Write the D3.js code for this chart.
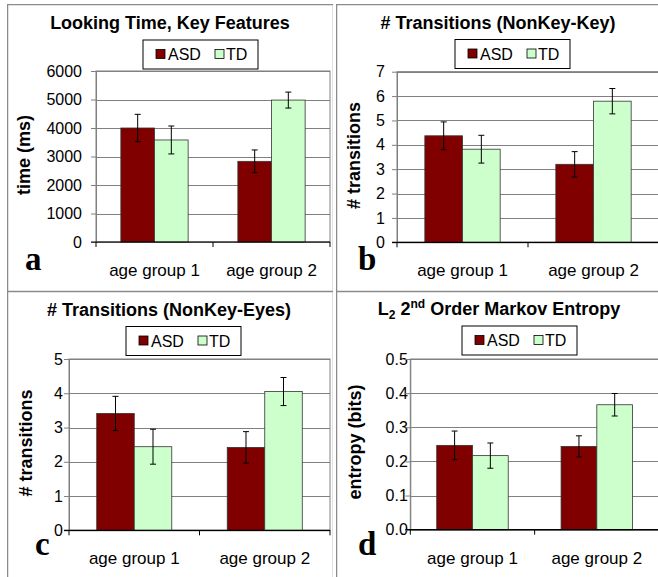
<!DOCTYPE html>
<html>
<head>
<meta charset="utf-8">
<script src="https://cdn.jsdelivr.net/npm/d3@7"></script>
<style>
  body { margin: 0; background: #fff; }
  svg { display: block; }
  text { font-family: "Liberation Sans", Arial, sans-serif; }
</style>
</head>
<body>
<svg id="chart" width="658" height="577"></svg>
<script>
const groups = ['age group 1', 'age group 2'];
const seriesNames = ['ASD', 'TD'];
const seriesColors = ['#800000', '#ccffcc'];

// panel a: looking time at key features (ms)
const lookTimeASD = [4000, 2830];
const lookTimeASDErr = [480, 400];
const lookTimeTD = [3580, 4980];
const lookTimeTDErr = [490, 280];
const lookTimeTicks = [0, 1000, 2000, 3000, 4000, 5000, 6000];

// panel b: transitions NonKey-Key
const keyTransASD = [4.37, 3.2];
const keyTransASDErr = [0.57, 0.52];
const keyTransTD = [3.82, 5.79];
const keyTransTDErr = [0.57, 0.52];
const keyTransTicks = [0, 1, 2, 3, 4, 5, 6, 7];

// panel c: transitions NonKey-Eyes
const eyeTransASD = [3.41, 2.42];
const eyeTransASDErr = [0.5, 0.46];
const eyeTransTD = [2.44, 4.05];
const eyeTransTDErr = [0.51, 0.41];
const eyeTransTicks = [0, 1, 2, 3, 4, 5];

// panel d: L2 2nd order Markov entropy (bits)
const entropyASD = [0.247, 0.244];
const entropyASDErr = [0.042, 0.031];
const entropyTD = [0.217, 0.366];
const entropyTDErr = [0.037, 0.033];
const entropyTicks = [0, 0.1, 0.2, 0.3, 0.4, 0.5];

const svg = d3.select('#chart');
svg.append('rect').attr('width', 658).attr('height', 577).attr('fill', '#fff');

const panels = [
  {
    id: 'a', title: [{ t: 'Looking Time, Key Features' }], yTitle: 'time (ms)',
    values: [lookTimeASD, lookTimeTD], errors: [lookTimeASDErr, lookTimeTDErr],
    ticks: lookTimeTicks, fmt: d3.format('d'),
    box: [7, 4, 326, 287], plot: [96, 330, 71, 242], tickGap: 14,
    titleX: 170, titleY: 28.5, legend: [143, 40], yTitleX: 24, yTitleY: 155,
    letter: [25, 270]
  },
  {
    id: 'b', title: [{ t: '# Transitions (NonKey-Key)' }], yTitle: '# transitions',
    values: [keyTransASD, keyTransTD], errors: [keyTransASDErr, keyTransTDErr],
    ticks: keyTransTicks, fmt: d3.format('d'),
    box: [336, 4, 330, 287], plot: [397, 659, 71.7, 242.3], tickGap: 12,
    titleX: 498, titleY: 28.5, legend: [455, 39.5], yTitleX: 354, yTitleY: 155.5,
    letter: [358, 270]
  },
  {
    id: 'c', title: [{ t: '# Transitions (NonKey-Eyes)' }], yTitle: '# transitions',
    values: [eyeTransASD, eyeTransTD], errors: [eyeTransASDErr, eyeTransTDErr],
    ticks: eyeTransTicks, fmt: d3.format('d'),
    box: [7, 291, 326, 300], plot: [69, 330, 359, 530.3], tickGap: 6,
    titleX: 169, titleY: 315.5, legend: [126, 326.5], yTitleX: 26, yTitleY: 443,
    letter: [35, 555]
  },
  {
    id: 'd',
    title: [
      { t: 'L' }, { t: '2', sub: true }, { t: ' 2' }, { t: 'nd', sup: true },
      { t: ' Order Markov Entropy' }
    ],
    yTitle: 'entropy (bits)',
    values: [entropyASD, entropyTD], errors: [entropyASDErr, entropyTDErr],
    ticks: entropyTicks, fmt: d3.format('.1f'),
    box: [336, 291, 330, 300], plot: [410.3, 659, 359, 529.7], tickGap: 2.5,
    titleX: 499, titleY: 315, legend: [462, 326], yTitleX: 355, yTitleY: 442,
    letter: [358, 555]
  }
];

panels.forEach(p => drawPanel(p));

function drawPanel(p) {
  const [bx, by, bw, bh] = p.box;
  const [left, right, top, bottom] = p.plot;

  svg.append('clipPath').attr('id', 'clip-' + p.id)
    .append('rect').attr('x', bx).attr('y', by).attr('width', bw).attr('height', bh);

  const g = svg.append('g').attr('clip-path', `url(#clip-${p.id})`);

  // panel frame
  g.append('rect')
    .attr('x', bx).attr('y', by).attr('width', bw + 1).attr('height', bh + 1)
    .attr('fill', 'none').attr('stroke', '#8a8a8a').attr('stroke-width', 2.5);

  const y = d3.scaleLinear()
    .domain([0, d3.max(p.ticks)])
    .range([bottom, top]);

  const x0 = d3.scaleBand()
    .domain(groups)
    .range([left, right])
    .paddingInner(0.425)
    .paddingOuter(0.2125);

  const x1 = d3.scaleBand()
    .domain(seriesNames)
    .range([0, x0.bandwidth()]);

  // plot area border
  g.append('rect')
    .attr('x', left).attr('y', top).attr('width', right - left).attr('height', bottom - top)
    .attr('fill', 'none').attr('stroke', '#808080').attr('stroke-width', 1);

  // gridlines + y axis
  const yAxis = d3.axisLeft(y)
    .tickValues(p.ticks)
    .tickFormat(p.fmt)
    .tickSize(-(right - left))
    .tickPadding(p.tickGap);

  const ya = g.append('g')
    .attr('transform', `translate(${left},0)`)
    .call(yAxis);
  ya.select('.domain').attr('stroke', '#808080');
  ya.selectAll('.tick line').attr('stroke', '#808080').attr('shape-rendering', 'crispEdges');
  ya.selectAll('.tick text')
    .attr('font-size', 16)
    .attr('fill', '#000')
    .style('font-family', '"Liberation Sans", Arial, sans-serif');
  ya.selectAll('.tick')
    .append('line')
    .attr('x1', -5).attr('x2', 0)
    .attr('stroke', '#808080');

  // bars
  const rows = [];
  groups.forEach((grp, i) => {
    seriesNames.forEach((s, j) => {
      rows.push({ grp, s, j, v: p.values[j][i], e: p.errors[j][i] });
    });
  });

  g.append('g')
    .selectAll('rect')
    .data(rows)
    .join('rect')
    .attr('x', d => x0(d.grp) + x1(d.s))
    .attr('y', d => y(d.v))
    .attr('width', x1.bandwidth())
    .attr('height', d => y(0) - y(d.v))
    .attr('fill', d => seriesColors[d.j])
    .attr('stroke', '#333')
    .attr('stroke-width', 0.8);

  // error bars
  const eb = g.append('g')
    .attr('stroke', '#000')
    .attr('stroke-width', 1)
    .selectAll('g')
    .data(rows)
    .join('g')
    .attr('transform', d => `translate(${x0(d.grp) + x1(d.s) + x1.bandwidth() / 2},0)`);

  eb.append('line')
    .attr('y1', d => y(d.v + d.e))
    .attr('y2', d => y(d.v - d.e));
  eb.append('line')
    .attr('x1', -3).attr('x2', 3)
    .attr('y1', d => y(d.v + d.e)).attr('y2', d => y(d.v + d.e));
  eb.append('line')
    .attr('x1', -3).attr('x2', 3)
    .attr('y1', d => y(d.v - d.e)).attr('y2', d => y(d.v - d.e));

  // x axis
  const xa = g.append('g')
    .attr('transform', `translate(0,${bottom})`);
  xa.append('line')
    .attr('x1', left - 5).attr('x2', right)
    .attr('stroke', '#000').attr('stroke-width', 1.2);
  const bounds = [left, (left + right) / 2, right];
  xa.selectAll('line.tk')
    .data(bounds)
    .join('line')
    .attr('class', 'tk')
    .attr('x1', d => d).attr('x2', d => d)
    .attr('y1', 0).attr('y2', 5)
    .attr('stroke', '#000');
  xa.selectAll('text')
    .data(groups)
    .join('text')
    .attr('x', d => x0(d) + x0.bandwidth() / 2)
    .attr('y', 34)
    .attr('text-anchor', 'middle')
    .attr('font-size', 17)
    .text(d => d);

  // title
  const title = g.append('text')
    .attr('x', p.titleX)
    .attr('y', p.titleY)
    .attr('text-anchor', 'middle')
    .attr('font-size', 18)
    .attr('font-weight', 'bold');
  p.title.forEach(part => {
    const ts = title.append('tspan').text(part.t);
    if (part.sub) ts.attr('font-size', 12).attr('dy', 4);
    if (part.sup) ts.attr('font-size', 12).attr('dy', -7);
    if (!part.sub && !part.sup && part !== p.title[0]) {
      const prev = p.title[p.title.indexOf(part) - 1];
      if (prev.sub) ts.attr('dy', -4);
      if (prev.sup) ts.attr('dy', 7);
    }
  });

  // y axis title
  g.append('text')
    .attr('transform', `translate(${p.yTitleX},${p.yTitleY}) rotate(-90)`)
    .attr('dy', '0.35em')
    .attr('text-anchor', 'middle')
    .attr('font-size', 18)
    .attr('font-weight', 'bold')
    .text(p.yTitle);

  // legend
  const [lx, ly] = p.legend;
  const lg = g.append('g').attr('transform', `translate(${lx},${ly})`);
  lg.append('rect')
    .attr('width', 115).attr('height', 29)
    .attr('fill', '#fff').attr('stroke', '#000').attr('stroke-width', 1);
  const item = lg.selectAll('g')
    .data(seriesNames)
    .join('g')
    .attr('transform', (d, i) => `translate(${i === 0 ? 13 : 72},0)`);
  item.append('rect')
    .attr('y', 9.5).attr('width', 9).attr('height', 9)
    .attr('fill', (d, i) => seriesColors[i])
    .attr('stroke', '#000').attr('stroke-width', 0.8);
  item.append('text')
    .attr('x', (d, i) => (i === 0 ? 12 : 11))
    .attr('y', 20)
    .attr('font-size', 16)
    .text(d => d);

  // panel letter
  g.append('text')
    .attr('x', p.letter[0])
    .attr('y', p.letter[1])
    .attr('font-size', 33)
    .attr('font-weight', 'bold')
    .style('font-family', '"Liberation Serif", "Times New Roman", serif')
    .text(p.id);
}
</script>
</body>
</html>
